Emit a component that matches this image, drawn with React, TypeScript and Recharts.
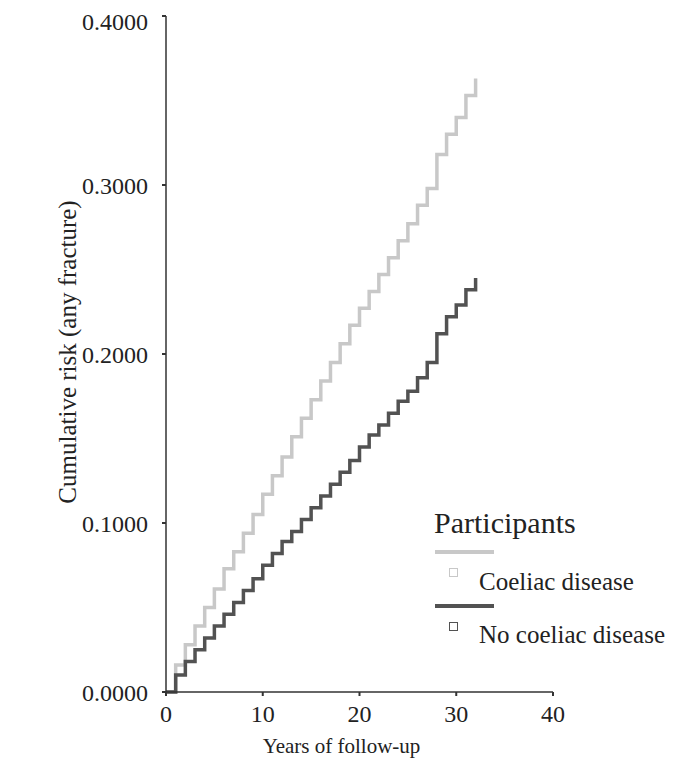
import React from "react";
import { LineChart, Line, XAxis, YAxis } from "recharts";

// Follow-up years (step points, one per year)
const years = [
  0, 1, 2, 3, 4, 5, 6, 7, 8, 9, 10, 11, 12, 13, 14, 15, 16,
  17, 18, 19, 20, 21, 22, 23, 24, 25, 26, 27, 28, 29, 30, 31, 32,
];

// Cumulative risk of any fracture, participants with coeliac disease
const coeliacRisk = [
  0.0, 0.016, 0.028, 0.039, 0.05, 0.061, 0.073, 0.083, 0.094, 0.105, 0.117,
  0.128, 0.139, 0.151, 0.162, 0.173, 0.184, 0.195, 0.206, 0.217, 0.227,
  0.237, 0.247, 0.257, 0.267, 0.277, 0.288, 0.298, 0.318, 0.33, 0.34,
  0.353, 0.363,
];

// Cumulative risk of any fracture, participants without coeliac disease
const noCoeliacRisk = [
  0.0, 0.01, 0.018, 0.025, 0.032, 0.039, 0.046, 0.053, 0.06, 0.067, 0.075,
  0.082, 0.089, 0.095, 0.102, 0.109, 0.116, 0.123, 0.13, 0.137, 0.145,
  0.152, 0.158, 0.165, 0.172, 0.178, 0.186, 0.195, 0.212, 0.222, 0.229,
  0.238, 0.245,
];

const xTicks = [0, 10, 20, 30, 40];
const yTicks = [0, 0.1, 0.2, 0.3, 0.4];

const legendTitle = "Participants";
const seriesNames = ["Coeliac disease", "No coeliac disease"];
const seriesColors = ["#c8c8c8", "#525252"];

const data = years.map((year, i) => ({
  year,
  coeliac: coeliacRisk[i],
  noCoeliac: noCoeliacRisk[i],
}));

const FONT = "Liberation Serif";
const TEXT = "#222";
const AXIS = "#333";

// Legend layout (relative to the chart box)
const legendRows = [
  { lineTop: 542, boxTop: 560, textTop: 559 },
  { lineTop: 596, boxTop: 614, textTop: 612 },
];

export default function App() {
  return (
    <div style={{ position: "relative", width: 675, height: 751, fontFamily: FONT }}>
      <LineChart
        width={675}
        height={751}
        data={data}
        margin={{ top: 8, right: 130, bottom: 0, left: 0 }}
        style={{ fontFamily: FONT }}
      >
        <XAxis
          dataKey="year"
          type="number"
          domain={[0, 40]}
          ticks={xTicks}
          tickSize={4}
          tickMargin={9}
          height={67}
          axisLine={{ stroke: AXIS, strokeWidth: 1.5 }}
          tickLine={{ stroke: AXIS, strokeWidth: 2 }}
          tick={{ fill: TEXT, fontSize: 24, fontFamily: FONT }}
          label={{
            value: "Years of follow-up",
            position: "insideBottom",
            offset: 6,
            dx: -18,
            style: { fill: TEXT, fontSize: 21, fontFamily: FONT },
          }}
        />
        <YAxis
          type="number"
          domain={[0, 0.4]}
          ticks={yTicks}
          width={158}
          tickSize={4}
          tickMargin={14}
          tickFormatter={(v: number) => v.toFixed(4)}
          axisLine={{ stroke: AXIS, strokeWidth: 1.5 }}
          tickLine={{ stroke: AXIS, strokeWidth: 2 }}
          tick={{ fill: TEXT, fontSize: 24, fontFamily: FONT }}
          label={{
            value: "Cumulative risk (any fracture)",
            angle: -90,
            position: "center",
            dx: -20,
            dy: -2,
            style: { fill: TEXT, fontSize: 25, fontFamily: FONT, textAnchor: "middle" },
          }}
        />
        <Line
          type="stepAfter"
          dataKey="coeliac"
          name={seriesNames[0]}
          stroke={seriesColors[0]}
          strokeWidth={3.5}
          dot={false}
          isAnimationActive={false}
        />
        <Line
          type="stepAfter"
          dataKey="noCoeliac"
          name={seriesNames[1]}
          stroke={seriesColors[1]}
          strokeWidth={3.5}
          dot={false}
          isAnimationActive={false}
        />
      </LineChart>

      <div
        style={{
          position: "absolute",
          left: 426,
          top: 498,
          fontSize: 30,
          lineHeight: "34px",
          color: TEXT,
          fontFamily: FONT,
          whiteSpace: "nowrap",
        }}
      >
        {legendTitle}
      </div>
      {seriesNames.map((name, i) => (
        <React.Fragment key={name}>
          <div
            style={{
              position: "absolute",
              left: 427,
              top: legendRows[i].lineTop,
              width: 59,
              height: 4,
              background: seriesColors[i],
            }}
          />
          <div
            style={{
              position: "absolute",
              left: 441,
              top: legendRows[i].boxTop,
              width: 9,
              height: 9,
              border: `1.5px solid ${seriesColors[i]}`,
              boxSizing: "border-box",
            }}
          />
          <div
            style={{
              position: "absolute",
              left: 471,
              top: legendRows[i].textTop,
              fontSize: 25,
              lineHeight: "30px",
              color: TEXT,
              fontFamily: FONT,
              whiteSpace: "nowrap",
            }}
          >
            {name}
          </div>
        </React.Fragment>
      ))}
    </div>
  );
}
